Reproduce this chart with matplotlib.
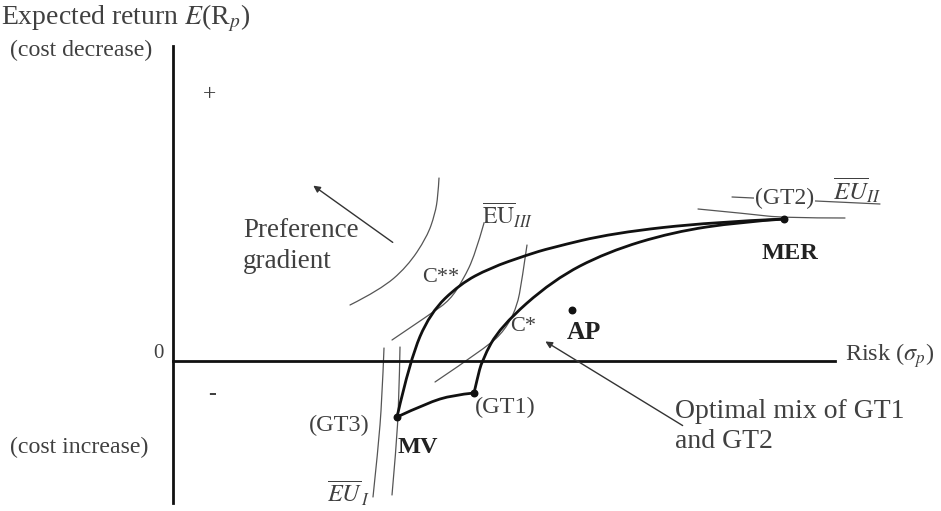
import matplotlib
matplotlib.use("Agg")
import matplotlib.pyplot as plt
from matplotlib.path import Path
from matplotlib.patches import PathPatch

plt.rcParams['font.family'] = ['Liberation Serif', 'DejaVu Serif']
plt.rcParams['mathtext.fontset'] = 'stix'

# ---- data (risk on x, expected return on y; origin at axes crossing) ----
axis_x_end = 662
axis_y_top = 315
axis_y_bottom = -142

key_names = ["MV", "GT1", "MER", "AP"]
key_x = [224, 301, 611, 399]
key_y = [-56, -32, 142, 51]

# efficient frontier pieces (thick curves)
upper_x = [224, 237, 257, 287, 317, 354, 377, 440, 540, 611]
upper_y = [-56, 1, 48, 77, 93, 106, 113, 128, 139, 142]
lower_x = [301, 304, 309, 327, 380, 434, 500, 567, 611]
lower_y = [-32, -19, 1, 34, 81, 109, 129, 139, 142]
base_x = [224, 254, 280, 301]
base_y = [-56, -42, -34, -32]

# indifference curves (thin)
pref_x = [266, 265, 262, 254, 234, 207, 177]
pref_y = [183, 165, 147, 124, 94, 71, 56]
eu3_x = [311, 302, 290, 277, 259, 219]
eu3_y = [138, 106, 81, 61, 48, 21]
cstar_x = [354, 349, 344, 332, 314, 262]
cstar_y = [116, 81, 54, 31, 14, -21]
eu1a_x = [211, 209, 205, 200]
eu1a_y = [13, -39, -89, -136]
eu1b_x = [227, 226, 223, 219]
eu1b_y = [14, -39, -89, -134]
eu2a_x = [525, 577, 611, 672]
eu2a_y = [152, 147, 143, 143]
eu2b_x = [559, 642, 707]
eu2b_y = [164, 160, 157]

TXT = '#404040'
fig = plt.figure(figsize=(9.41, 5.11), dpi=100)
ax = fig.add_axes([0, 0, 1, 1])
ax.set_xlim(-173, 768)
ax.set_ylim(-150, 361)
ax.axis('off')


def smooth(xs, ys, lw, color):
    pts = list(zip(xs, ys))
    verts = [pts[0]]
    codes = [Path.MOVETO]
    for i in range(1, len(pts) - 1):
        m = ((pts[i][0] + pts[i + 1][0]) / 2, (pts[i][1] + pts[i + 1][1]) / 2)
        if i == len(pts) - 2:
            m = pts[-1]
        verts += [pts[i], m]
        codes += [Path.CURVE3, Path.CURVE3]
    if len(pts) == 2:
        verts.append(pts[1]); codes.append(Path.LINETO)
    ax.add_patch(PathPatch(Path(verts, codes), fill=False, lw=lw,
                           edgecolor=color, capstyle='round'))

# axes
ax.plot([0, axis_x_end], [0, 0], color='#111', lw=2.0)
ax.plot([0, 0], [axis_y_bottom, axis_y_top], color='#111', lw=2.0)

# thin curves
for xs, ys in [(pref_x, pref_y), (eu3_x, eu3_y), (cstar_x, cstar_y),
               (eu1a_x, eu1a_y), (eu1b_x, eu1b_y), (eu2a_x, eu2a_y),
               (eu2b_x, eu2b_y)]:
    smooth(xs, ys, 0.9, '#555')

# thick curves
for xs, ys in [(upper_x, upper_y), (lower_x, lower_y), (base_x, base_y)]:
    smooth(xs, ys, 2.0, '#111')

# key points
ax.scatter(key_x, key_y, s=22, color='#111', zorder=5)

# texts
fs = 17
ax.text(-172, 343, r"Expected return $E$(R$_p$)", fontsize=20, color=TXT, va='center', ha='left')
ax.text(-163, 311, "(cost decrease)", fontsize=17.2, color=TXT, va='center', ha='left')
ax.text(-163, -86, "(cost increase)", fontsize=17.2, color=TXT, va='center', ha='left')
ax.text(-15, 8, "0", fontsize=15, color=TXT, va='center', ha='center')
ax.text(37, 266, "+", fontsize=17, color=TXT, va='center', ha='center')
ax.text(39, -33, "-", fontsize=17, color=TXT, va='center', ha='center', fontweight='bold')
ax.text(672, 5, r"Risk ($\sigma_p$)", fontsize=17.5, color=TXT, va='center', ha='left')
ax.text(70, 115, "Preference\ngradient", fontsize=19.5, color=TXT, va='center', ha='left',
        linespacing=1.3)
ax.annotate("", xy=(138, 177), xytext=(222, 117),
            arrowprops=dict(arrowstyle='-|>', lw=1.0, color='#333', mutation_scale=10))
ax.annotate("", xy=(370, 21), xytext=(512, -66),
            arrowprops=dict(arrowstyle='-|>', lw=1.0, color='#333', mutation_scale=10))
ax.text(502, -65.5, "Optimal mix of GT1\nand GT2", fontsize=20, color=TXT, va='center',
        ha='left', linespacing=1.25)
ax.text(249, 84, "C**", fontsize=16, color=TXT, va='center', ha='left')
ax.text(337, 35, "C*", fontsize=16, color=TXT, va='center', ha='left')
ax.text(394, 29, "AP", fontsize=18.5, color='#222', va='center', ha='left', fontweight='bold')
ax.text(302, -46, "(GT1)", fontsize=17.5, color=TXT, va='center', ha='left')
ax.text(197, -64, "(GT3)", fontsize=17.5, color=TXT, va='center', ha='right')
ax.text(225, -86, "MV", fontsize=17.5, color='#222', va='center', ha='left', fontweight='bold')
ax.text(589, 108, "MER", fontsize=17.5, color='#222', va='center', ha='left', fontweight='bold')
ax.text(582, 163, "(GT2)", fontsize=17, color=TXT, va='center', ha='left',
        bbox=dict(facecolor='white', edgecolor='none', pad=0.5))
ax.text(660, 171, r"$\overline{EU}_{II}$", fontsize=18, color=TXT, va='center', ha='left')
ax.text(309, 146, r"$\overline{\mathrm{EU}}_{\mathit{III}}$", fontsize=17, color=TXT, va='center', ha='left')
ax.text(154, -132, r"$\overline{EU}_{\,I}$", fontsize=17.5, color=TXT, va='center', ha='left')

fig.savefig("out.png", dpi=100)
